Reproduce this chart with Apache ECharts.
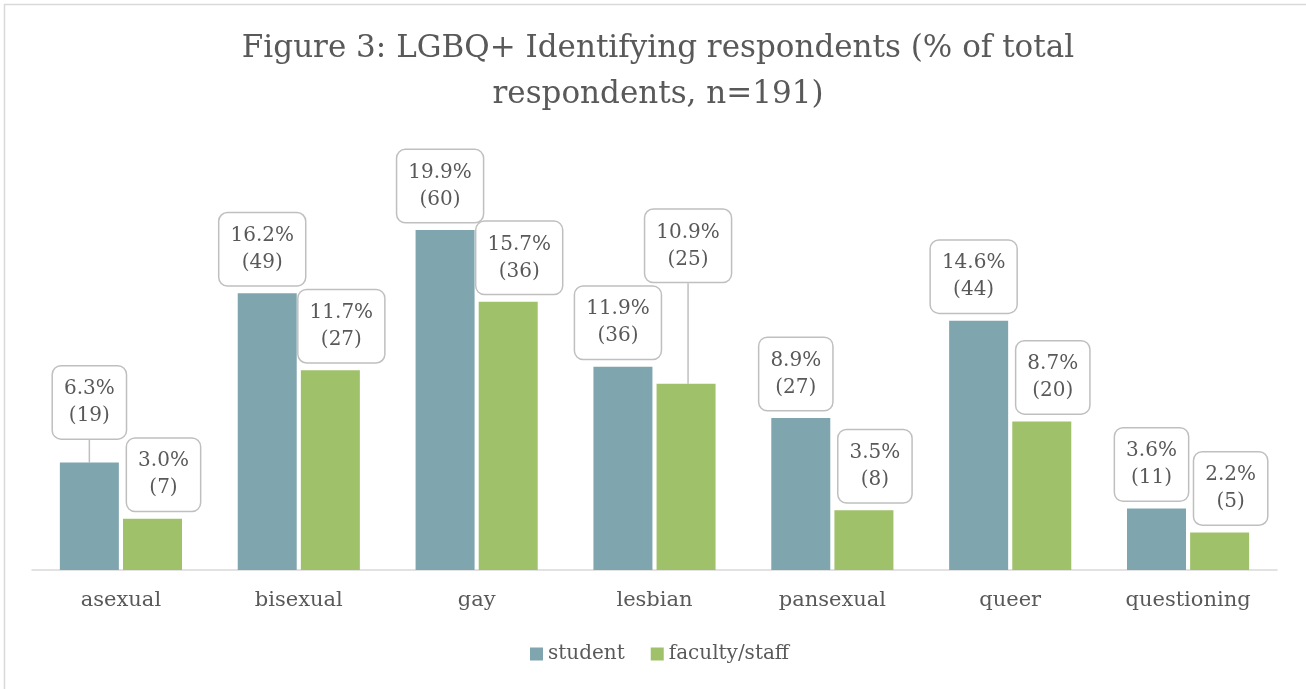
<!DOCTYPE html>
<html>
<head>
<meta charset="utf-8">
<style>
  html, body { margin: 0; padding: 0; background: #fff; }
  #main { width: 1306px; height: 689px; }
</style>
<script src="https://cdn.jsdelivr.net/npm/echarts@6/dist/echarts.min.js"></script>
</head>
<body>
<div id="main"></div>
<script>
// categories and values
var categories = ["asexual", "bisexual", "gay", "lesbian", "pansexual", "queer", "questioning"];
var studentPct = [6.3, 16.2, 19.9, 11.9, 8.9, 14.6, 3.6];
var studentCount = [19, 49, 60, 36, 27, 44, 11];
var staffPct = [3.0, 11.7, 15.7, 10.9, 3.5, 8.7, 2.2];
var staffCount = [7, 27, 36, 25, 8, 20, 5];

var FONT = "DejaVu Serif";
var TEXT = "#595959";

window.addEventListener("load", function () {
  var myChart = echarts.init(document.getElementById("main"));

  // label box look, like the Excel callouts
  function boxLabel(counts) {
    return {
      show: true,
      position: "top",
      distance: 8,
      color: TEXT,
      fontFamily: FONT,
      fontSize: 20,
      lineHeight: 27,
      align: "center",
      backgroundColor: "#fff",
      borderColor: "#bfbfbf",
      borderWidth: 1.5,
      borderRadius: 8,
      padding: [9, 11],
      formatter: function (p) {
        return p.value.toFixed(1) + "%\n(" + counts[p.dataIndex] + ")";
      }
    };
  }

  // leader line shown only on the labels that are lifted
  function items(values, lifted) {
    return values.map(function (v, i) {
      if (!lifted[i]) return v;
      return {
        value: v,
        labelLine: { show: true, lineStyle: { color: "#bfbfbf", width: 1.5 } }
      };
    });
  }

  var option = {
    backgroundColor: "#fff",
    color: ["#7fa5af", "#9fc16a"],
    title: {
      text: "Figure 3: LGBQ+ Identifying respondents (% of total\nrespondents, n=191)",
      left: 653,
      top: 21,
      textAlign: "center",
      textStyle: {
        color: TEXT,
        fontFamily: FONT,
        fontWeight: "normal",
        fontSize: 31,
        lineHeight: 46
      }
    },
    legend: {
      bottom: 20,
      left: 525,
      itemWidth: 13,
      itemHeight: 13,
      itemGap: 26,
      icon: "rect",
      textStyle: { color: TEXT, fontFamily: FONT, fontSize: 20 }
    },
    grid: {
      left: 32,
      right: 29,
      top: 143,
      bottom: 119,
      containLabel: false
    },
    xAxis: {
      type: "category",
      data: categories,
      axisTick: { show: false },
      axisLine: { lineStyle: { color: "#d9d9d9", width: 1.5 } },
      axisLabel: { color: TEXT, fontFamily: FONT, fontSize: 21, margin: 20 }
    },
    yAxis: {
      type: "value",
      min: 0,
      max: 25,
      show: false,
      splitLine: { show: false }
    },
    series: [
      {
        name: "student",
        type: "bar",
        barWidth: 59,
        barGap: "7%",
        data: items(studentPct, [1, 0, 0, 0, 0, 0, 0]),
        label: boxLabel(studentCount),
        labelLayout: function (p) {
          return p.dataIndex === 0 ? { dx: 0, dy: -16 } : { dx: -5 };
        }
      },
      {
        name: "faculty/staff",
        type: "bar",
        barWidth: 59,
        data: items(staffPct, [0, 0, 0, 1, 0, 0, 0]),
        label: boxLabel(staffCount),
        labelLayout: function (p) {
          return p.dataIndex === 3 ? { dx: 2, dy: -94 } : { dx: 11 };
        }
      }
    ],
    graphic: [
      {
        type: "rect",
        left: 2,
        top: 2,
        shape: { width: 1320, height: 700 },
        style: { fill: "none", stroke: "#d9d9d9", lineWidth: 1.5 },
        silent: true
      }
    ]
  };

  myChart.setOption(option);
  window.addEventListener("resize", function () {
    myChart.resize();
  });
});
</script>
</body>
</html>
